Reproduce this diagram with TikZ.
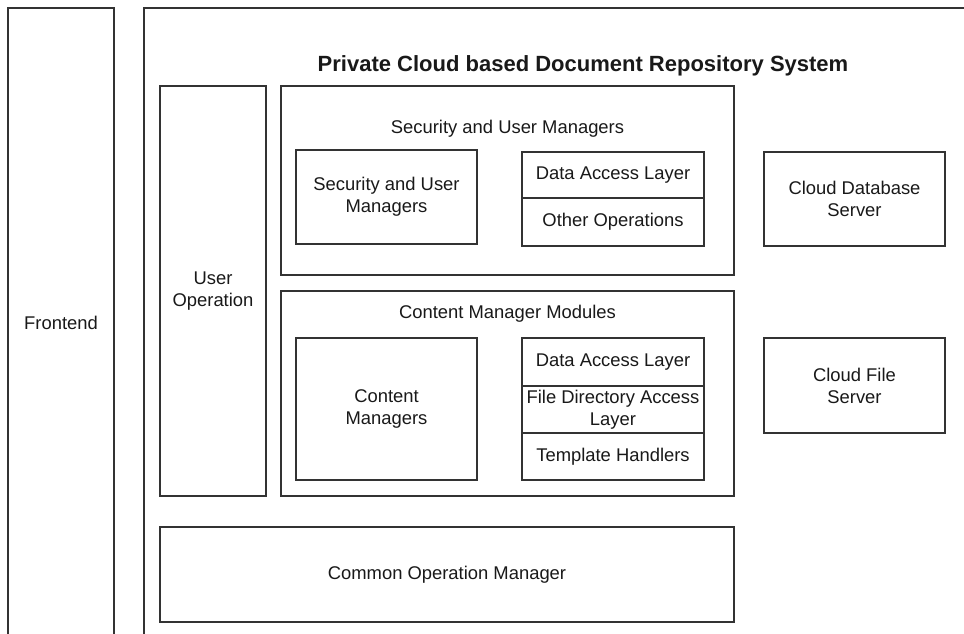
\documentclass[tikz,border=0pt]{standalone}
\usepackage{fontspec}
\setmainfont{Liberation Sans}
\newcommand{\fsnorm}{\fontsize{18.4}{22}\selectfont}
\newcommand{\fstitle}{\fontsize{22}{26}\selectfont\bfseries}
\tikzset{
  box/.style={draw=black!80, line width=1.4pt, rectangle, inner sep=0pt, align=center, font=\fsnorm, text=black!90},
  lbl/.style={inner sep=0pt, align=center, font=\fsnorm, text=black!90},
}
\begin{document}
\begin{tikzpicture}[x=1pt,y=-1pt]
\path[use as bounding box, clip] (0,0) rectangle (964,634);
\fill[white] (0,0) rectangle (964,634);
% outer containers
\node[box, minimum width=106, minimum height=630] (front) at (61,323) {Frontend};
\node[box, minimum width=878, minimum height=652] (main) at (583,334) {};
\node[lbl, font=\fstitle] (title) at (583,66) {Private Cloud based Document Repository System};
% user operation
\node[box, minimum width=106, minimum height=410] (userop) at (213,291) {User\\Operation};
% security group
\node[box, minimum width=453, minimum height=189] (secgrp) at (507.5,180.5) {};
\node[lbl] (seclbl) at (507.5,129) {Security and User Managers};
\node[box, minimum width=181, minimum height=94] (secmgr) at (386.5,197) {Security and User\\Managers};
\node[box, minimum width=182, minimum height=46] (dal1) at (613,175) {Data Access Layer};
\node[box, minimum width=182, minimum height=48] (other) at (613,222) {Other Operations};
\node[box, minimum width=181, minimum height=94] (clouddb) at (854.5,199) {Cloud Database\\Server};
% content group
\node[box, minimum width=453, minimum height=205] (cmgrp) at (507.5,393.5) {};
\node[lbl] (cmlbl) at (507.5,314) {Content Manager Modules};
\node[box, minimum width=181, minimum height=142] (cmgr) at (386.5,409) {Content\\Managers};
\node[box, minimum width=182, minimum height=48] (dal2) at (613,362) {Data Access Layer};
\node[box, minimum width=182, minimum height=47] (fdal) at (613,409.5) {};
\node[lbl] (fdaltxt) at (613,409.5) {File Directory Access\\Layer};
\node[box, minimum width=182, minimum height=47] (tmpl) at (613,456.5) {Template Handlers};
\node[box, minimum width=181, minimum height=95] (cfs) at (854.5,385.5) {Cloud File\\Server};
% common
\node[box, minimum width=574, minimum height=95] (common) at (447,574.5) {Common Operation Manager};
\end{tikzpicture}
\end{document}
